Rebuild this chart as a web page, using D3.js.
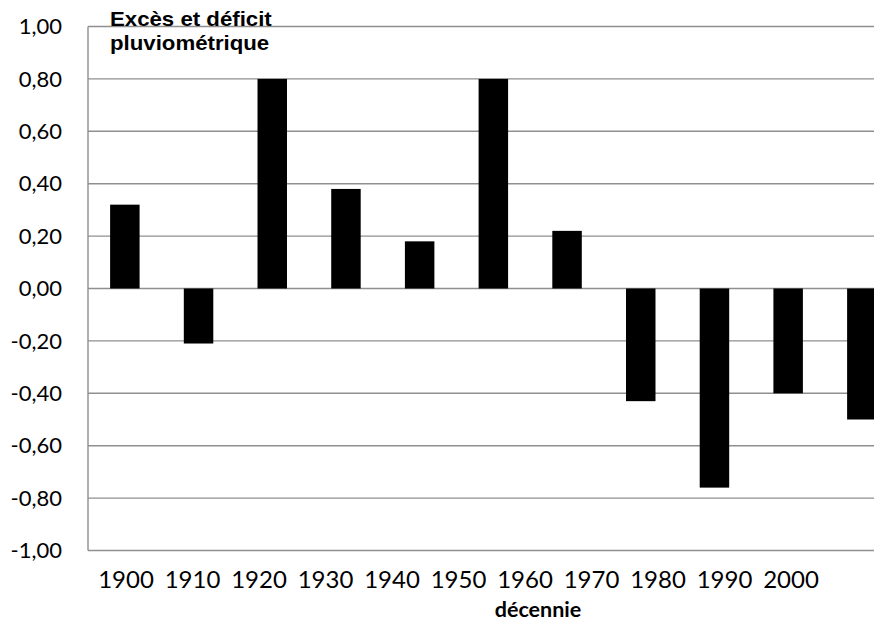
<!DOCTYPE html>
<html><head><meta charset="utf-8">
<script src="https://cdn.jsdelivr.net/npm/d3@7"></script>
<style>body{margin:0;background:#fff}svg{display:block}</style>
</head><body>
<script>
const categories = ["1900","1910","1920","1930","1940","1950","1960","1970","1980","1990","2000"];
const values = [0.32, -0.21, 0.80, 0.38, 0.18, 0.80, 0.22, -0.43, -0.76, -0.40, -0.50];
const yTicks = [1.0, 0.8, 0.6, 0.4, 0.2, 0, -0.2, -0.4, -0.6, -0.8, -1.0];
const titleLines = ["Excès et déficit", "pluviométrique"];
const xTitle = "décennie";

(function(){
const W = 874, H = 624;
const svg = d3.select("body").append("svg").attr("width", W).attr("height", H);

const pLeft = 88, pTop = 26.5, pBottom = 550.5, step = 73.7;
const y = d3.scaleLinear().domain([-1, 1]).range([pBottom, pTop]);
const x = d3.scaleBand().domain(categories).range([pLeft, pLeft + step * categories.length]).padding(0);
const xl = d3.scalePoint().domain(categories).range([126, 791]);

const fmt = v => d3.format(".2f")(v).replace(".", ",").replace("−", "-");

svg.append("g").selectAll("line").data(yTicks).join("line")
  .attr("x1", pLeft).attr("x2", W)
  .attr("y1", d => y(d)).attr("y2", d => y(d))
  .attr("stroke", "#8f8f8f").attr("stroke-width", 1.4);

svg.append("line").attr("x1", pLeft).attr("x2", pLeft).attr("y1", pTop).attr("y2", pBottom)
  .attr("stroke", "#8f8f8f").attr("stroke-width", 1.4);

const bw = x.bandwidth() * 0.4;
svg.append("g").selectAll("rect").data(values).join("rect")
  .attr("x", (d, i) => x(categories[i]) + x.bandwidth() / 2 - bw / 2)
  .attr("width", bw)
  .attr("y", d => y(Math.max(0, d)))
  .attr("height", d => Math.abs(y(d) - y(0)))
  .attr("fill", "#000");

svg.append("g").selectAll("text").data(yTicks).join("text")
  .attr("x", 62).attr("y", d => y(d)).attr("dy", "0.35em")
  .attr("text-anchor", "end")
  .attr("font-family", "Lato, 'Open Sans', sans-serif").attr("font-size", 22)
  .attr("fill", "#000")
  .text(d => fmt(d));

svg.append("g").selectAll("text").data(categories).join("text")
  .attr("x", d => xl(d)).attr("y", 588)
  .attr("text-anchor", "middle")
  .attr("font-family", "Lato, 'Open Sans', sans-serif").attr("font-size", 24)
  .attr("fill", "#000")
  .text(d => d);

svg.append("text").attr("x", 538).attr("y", 617).attr("text-anchor", "middle")
  .attr("font-family", "Lato, 'Open Sans', sans-serif").attr("font-weight", "bold").attr("font-size", 21.5)
  .text(xTitle);

svg.append("g").attr("transform", "translate(110,0) scale(1.14,1)")
  .selectAll("text").data(titleLines).join("text")
  .attr("x", 0).attr("y", (d, i) => 26.5 + i * 24)
  .attr("font-family", "'Liberation Sans', Arial, sans-serif").attr("font-weight", "bold").attr("font-size", 19.5)
  .text(d => d);
})();
</script>
</body></html>
